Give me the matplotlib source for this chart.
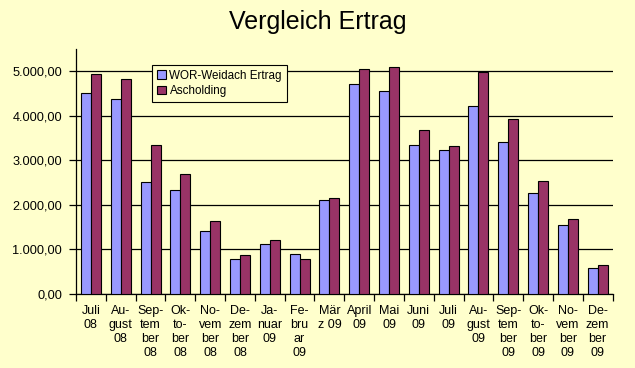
import matplotlib.pyplot as plt
import numpy as np
from matplotlib.ticker import MultipleLocator, FuncFormatter

plt.rcParams['font.family'] = ['Liberation Sans', 'DejaVu Sans']

labels = ['Juli\n08', 'Au-\ngust\n08', 'Sep-\ntem\nber\n08', 'Ok-\nto-\nber\n08', 'No-\nvem\nber\n08',
          'De-\nzem\nber\n08', 'Ja-\nnuar\n09', 'Fe-\nbru\nar\n09', 'Mär\nz 09', 'April\n09', 'Mai\n09',
          'Juni\n09', 'Juli\n09', 'Au-\ngust\n09', 'Sep-\ntem\nber\n09', 'Ok-\nto-\nber\n09',
          'No-\nvem\nber\n09', 'De-\nzem\nber\n09']
weidach = [4510, 4380, 2515, 2335, 1415, 786, 1123, 898, 2110, 4716, 4558,
           3346, 3234, 4222, 3413, 2268, 1549, 584]
ascholding = [4940, 4830, 3350, 2695, 1640, 876, 1213, 786, 2156, 5050, 5097,
              3683, 3323, 4993, 3930, 2537, 1684, 651]

bg = '#FFFFCC'
fig = plt.figure(figsize=(6.35, 3.68), dpi=100, facecolor=bg)
ax = fig.add_axes([0.1197, 0.201, 0.845, 0.666], facecolor=bg)

x = np.arange(len(labels))
w = 0.335
ax.bar(x - w/2, weidach, w, color='#9999FF', edgecolor='black', linewidth=0.8,
       label='WOR-Weidach Ertrag', zorder=3)
ax.bar(x + w/2, ascholding, w, color='#993366', edgecolor='black', linewidth=0.8,
       label='Ascholding', zorder=3)

ax.set_xlim(-0.5, len(labels) - 0.5)
ax.set_ylim(0, 5500)
ax.yaxis.set_major_locator(MultipleLocator(1000))
ax.yaxis.set_major_formatter(FuncFormatter(
    lambda v, p: '{:,.2f}'.format(v).replace(',', 'X').replace('.', ',').replace('X', '.')))
ax.grid(axis='y', color='black', linewidth=0.9, zorder=0)

# category labels under the bars, ticks between categories
ax.set_xticks(x)
ax.set_xticklabels(labels, fontsize=9, va='top', linespacing=1.2)
ax.tick_params(axis='x', length=0, pad=8)
ax.set_xticks(np.arange(-0.5, len(labels)), minor=True)
ax.tick_params(axis='x', which='minor', length=5, width=0.9, direction='out')
ax.tick_params(axis='y', length=5, width=0.9, labelsize=9.2, pad=5)

for s in ['top', 'right']:
    ax.spines[s].set_visible(False)
for s in ['left', 'bottom']:
    ax.spines[s].set_linewidth(0.9)

leg = ax.legend(loc='upper left', bbox_to_anchor=(0.1416, 0.935), fontsize=8.4,
                frameon=True, fancybox=False, edgecolor='black', facecolor=bg,
                framealpha=1, handlelength=0.8, handleheight=0.8, handletextpad=0.3,
                borderpad=0.4, labelspacing=0.3, borderaxespad=0)
leg.get_frame().set_linewidth(0.8)

fig.text(0.5, 0.94, 'Vergleich Ertrag', ha='center', va='center', fontsize=18)

fig.savefig('out.png', dpi=100, facecolor=bg)
